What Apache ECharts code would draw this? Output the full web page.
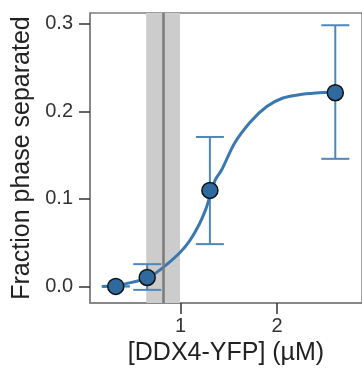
<!DOCTYPE html>
<html>
<head>
<meta charset="utf-8">
<script src="https://cdn.jsdelivr.net/npm/echarts@6/dist/echarts.min.js"></script>
<style>
html,body{margin:0;padding:0;background:#fff;}
#chart{width:362px;height:371px;}
</style>
</head>
<body>
<div id="chart"></div>
<script>
// Measured data points
const pointX = [0.327, 0.653, 1.303, 2.603];
const pointY = [0.000, 0.0102, 0.1097, 0.2214];
const errLow = [0.000, -0.004, 0.0483, 0.1458];
const errHigh = [0.000, 0.0254, 0.1708, 0.2985];

// Fitted curve
const curveX = [0.187, 0.327, 0.493, 0.653, 0.727, 0.86, 0.993, 1.093, 1.193, 1.26, 1.30, 1.36, 1.427, 1.56, 1.727, 1.893, 2.06, 2.227, 2.40, 2.603];
const curveY = [0.000, 0.001, 0.0046, 0.0095, 0.014, 0.0254, 0.0387, 0.052, 0.071, 0.088, 0.102, 0.122, 0.1336, 0.164, 0.1886, 0.2057, 0.2153, 0.2191, 0.221, 0.2221];

// Threshold band and line
const bandRange = [0.643, 0.993];
const threshold = [0.82];

// Ticks
const xTicks = [1, 2];
const yTicks = [0, 0.1, 0.2, 0.3];

const FONT = 'Liberation Sans, Arial, Helvetica, sans-serif';
const AXIS_COLOR = '#808080';

const chart = echarts.init(document.getElementById('chart'), null, {renderer: 'canvas'});

const points = pointX.map((x, i) => [x, pointY[i]]);
const errData = pointX.map((x, i) => [x, errLow[i], errHigh[i]]);
const curve = curveX.map((x, i) => [x, curveY[i]]);

chart.setOption({
  animation: false,
  backgroundColor: '#fff',
  grid: {left: 90, top: 13, right: -10, bottom: 67, show: true, borderColor: AXIS_COLOR, borderWidth: 1.5, backgroundColor: 'transparent'},
  xAxis: {
    type: 'value', min: 0.06, max: 2.88,
    name: '[DDX4-YFP] (µM)', nameLocation: 'middle', nameGap: 38,
    nameTextStyle: {fontFamily: FONT, fontSize: 25, color: '#222'},
    axisLine: {show: true, onZero: false, lineStyle: {color: AXIS_COLOR, width: 1.5}},
    axisTick: {show: true, customValues: xTicks, length: 11, lineStyle: {color: '#333', width: 1.5}},
    axisLabel: {customValues: xTicks, margin: 13, fontFamily: FONT, fontSize: 20, color: '#333', formatter: v => String(v)},
    splitLine: {show: false}
  },
  yAxis: {
    type: 'value', min: -0.019, max: 0.3125,
    name: 'Fraction phase separated', nameLocation: 'middle', nameRotate: 90, nameGap: 52,
    nameTextStyle: {fontFamily: FONT, fontSize: 25, color: '#222'},
    axisLine: {show: true, onZero: false, lineStyle: {color: AXIS_COLOR, width: 1.5}},
    axisTick: {show: true, customValues: yTicks, length: 11, lineStyle: {color: '#333', width: 1.5}},
    axisLabel: {customValues: yTicks, margin: 17, fontFamily: FONT, fontSize: 20, color: '#333', formatter: v => v.toFixed(1)},
    splitLine: {show: false}
  },
  series: [
    {
      type: 'line', data: [], z: 0, silent: true,
      markArea: {silent: true, itemStyle: {color: '#cccccc'}, data: [[{xAxis: bandRange[0]}, {xAxis: bandRange[1]}]]},
      markLine: {silent: true, symbol: 'none', label: {show: false}, lineStyle: {color: '#7a7a7a', width: 2.5, type: 'solid'}, data: threshold.map(t => ({xAxis: t}))}
    },
    {
      type: 'custom', z: 2, data: errData,
      renderItem: function (params, api) {
        const x = api.value(0);
        const lo = api.coord([x, api.value(1)]);
        const hi = api.coord([x, api.value(2)]);
        const hw = 14;
        const style = {stroke: '#4f87ba', lineWidth: 2};
        return {type: 'group', children: [
          {type: 'line', shape: {x1: lo[0], y1: lo[1], x2: hi[0], y2: hi[1]}, style: style},
          {type: 'line', shape: {x1: lo[0] - hw, y1: lo[1], x2: lo[0] + hw, y2: lo[1]}, style: style},
          {type: 'line', shape: {x1: hi[0] - hw, y1: hi[1], x2: hi[0] + hw, y2: hi[1]}, style: style}
        ]};
      }
    },
    {
      type: 'line', z: 3, data: curve, smooth: 0.3, showSymbol: false, symbol: 'none',
      lineStyle: {color: '#3a78b0', width: 3}
    },
    {
      type: 'scatter', z: 4, data: points, symbol: 'circle', symbolSize: 16,
      itemStyle: {color: '#2f6a9f', borderColor: '#111', borderWidth: 1.5, opacity: 1}
    }
  ]
});
</script>
</body>
</html>
